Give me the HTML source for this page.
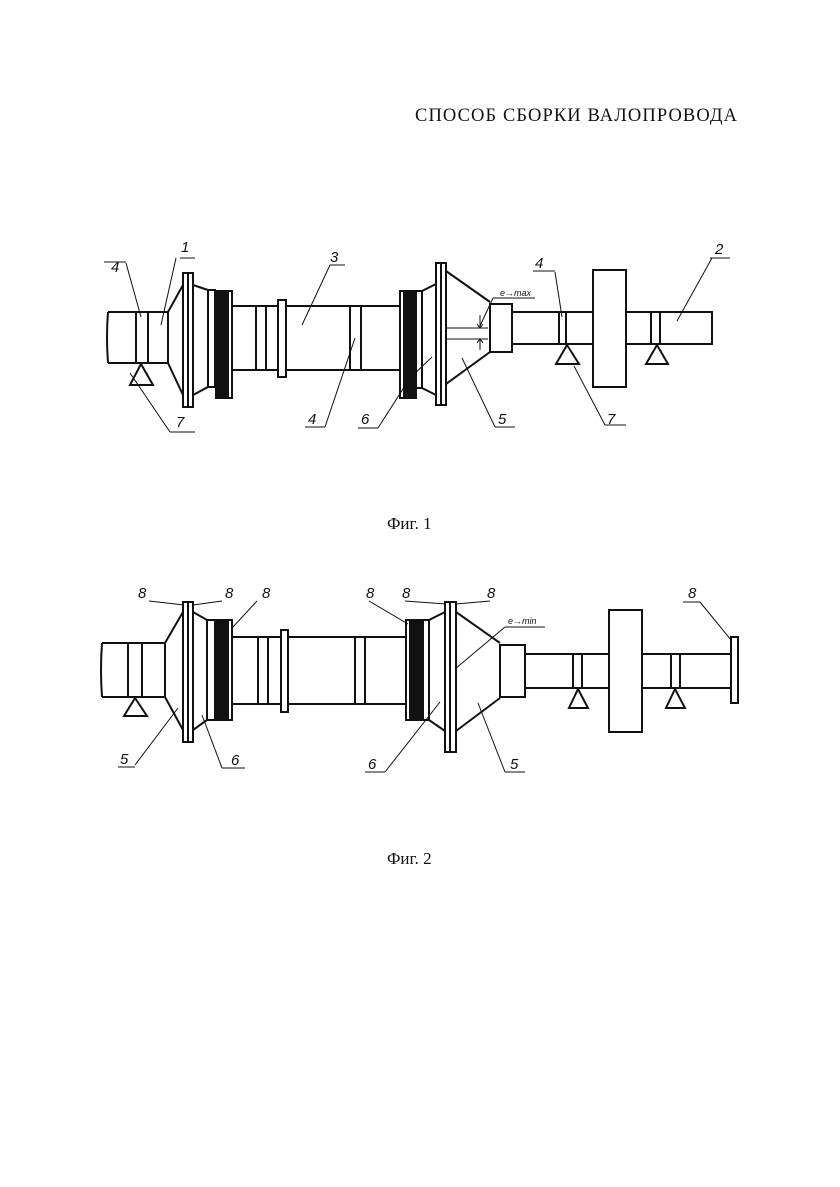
<!DOCTYPE html>
<html><head><meta charset="utf-8"><style>
html,body{margin:0;padding:0;background:#fff;}
svg{display:block;}
.t{font-family:"Liberation Serif",serif;fill:#111;}
.l{font-family:"Liberation Sans",sans-serif;font-style:italic;fill:#111;font-size:15px;}
</style></head><body>
<svg width="840" height="1187" viewBox="0 0 840 1187" xmlns="http://www.w3.org/2000/svg">
<rect width="840" height="1187" fill="#fff"/>
<text class="t" x="415" y="121" font-size="18.5" textLength="322">СПОСОБ СБОРКИ ВАЛОПРОВОДА</text>
<text class="t" x="387" y="529" font-size="17">Фиг. 1</text>
<text class="t" x="387" y="864" font-size="17">Фиг. 2</text>

<g fill="none" stroke="#111" stroke-width="2">
<!-- FIG 1 -->
<path d="M108,312 H168 V363 H108"/><path d="M108,312 q-2,25 0,51"/>
<line x1="136" y1="312" x2="136" y2="363"/><line x1="148" y1="312" x2="148" y2="363"/>
<path d="M168,312 L183,285 M168,363 L183,395"/>
<rect x="183" y="273" width="10" height="134"/><line x1="188" y1="273" x2="188" y2="407"/>
<path d="M193,285 L208,290 M193,395 L208,387"/>
<rect x="208" y="290" width="7" height="97"/>
<rect x="216" y="291" width="12" height="107" fill="#111"/>
<rect x="228" y="291" width="4" height="107"/>
<path d="M232,306 H400 M232,370 H400"/>
<line x1="256" y1="306" x2="256" y2="370"/><line x1="266" y1="306" x2="266" y2="370"/>
<rect x="278" y="300" width="8" height="77" fill="#fff"/>
<line x1="350" y1="306" x2="350" y2="370"/><line x1="361" y1="306" x2="361" y2="370"/>
<rect x="400" y="291" width="4" height="107"/>
<rect x="404" y="291" width="12" height="107" fill="#111"/>
<rect x="416" y="291" width="6" height="97"/>
<path d="M422,291 L436,284 M422,388 L436,395"/>
<rect x="436" y="263" width="10" height="142"/><line x1="441" y1="263" x2="441" y2="405"/>
<path d="M446,271 L490,302 M446,384 L490,352"/>
<rect x="490" y="304" width="22" height="48"/>
<path d="M512,312 H593 M512,344 H593"/>
<line x1="559" y1="312" x2="559" y2="344"/><line x1="566" y1="312" x2="566" y2="344"/>
<path d="M567,345 L556,364 H579 Z"/>
<rect x="593" y="270" width="33" height="117"/>
<path d="M626,312 H712 V344 H626"/>
<line x1="651" y1="312" x2="651" y2="344"/><line x1="660" y1="312" x2="660" y2="344"/>
<path d="M657,345 L646,364 H668 Z"/>
<path d="M141,364 L130,385 H153 Z"/>
</g>
<g fill="none" stroke="#111" stroke-width="1">
<line x1="446" y1="328" x2="488" y2="328"/><line x1="446" y1="339" x2="488" y2="339"/>
<line x1="480" y1="315" x2="480" y2="328"/><line x1="480" y1="339" x2="480" y2="350"/>
<path d="M477,324 L480,328 L483,324 M477,343 L480,339 L483,343"/>
<line x1="480" y1="326" x2="493" y2="298"/><line x1="493" y1="298" x2="535" y2="298"/>
<!-- leaders fig1 -->
<line x1="104" y1="262" x2="126" y2="262"/><line x1="126" y1="263" x2="141" y2="317"/>
<line x1="180" y1="258" x2="195" y2="258"/><line x1="176" y1="258" x2="161" y2="325"/>
<line x1="330" y1="265" x2="345" y2="265"/><line x1="330" y1="265" x2="302" y2="325"/>
<line x1="130" y1="373" x2="170" y2="432" /><line x1="170" y1="432" x2="195" y2="432"/>
<line x1="305" y1="427" x2="325" y2="427"/><line x1="325" y1="427" x2="355" y2="338"/>
<line x1="358" y1="428" x2="378" y2="428"/><line x1="378" y1="428" x2="410" y2="378"/><line x1="410" y1="378" x2="432" y2="357"/>
<line x1="495" y1="427" x2="515" y2="427"/><line x1="495" y1="427" x2="462" y2="358"/>
<line x1="533" y1="271" x2="555" y2="271"/><line x1="555" y1="272" x2="562" y2="317"/>
<line x1="574" y1="366" x2="605" y2="425"/><line x1="605" y1="425" x2="626" y2="425"/>
<line x1="710" y1="258" x2="730" y2="258"/><line x1="712" y1="258" x2="677" y2="321"/>
</g>
<g class="l">
<text x="111" y="272">4</text><text x="181" y="252">1</text><text x="330" y="262">3</text>
<text x="176" y="427">7</text><text x="308" y="424">4</text><text x="361" y="424">6</text>
<text x="498" y="424">5</text><text x="535" y="268">4</text><text x="607" y="424">7</text>
<text x="715" y="254">2</text>
<text x="500" y="296" font-size="9">e→max</text>
</g>

<!-- FIG 2 -->
<g fill="none" stroke="#111" stroke-width="2">
<path d="M102,643 H165 V697 H102"/><path d="M102,643 q-2,27 0,54"/>
<line x1="128" y1="643" x2="128" y2="697"/><line x1="142" y1="643" x2="142" y2="697"/>
<path d="M135,698 L124,716 H147 Z"/>
<path d="M165,643 L183,612 M165,697 L183,730"/>
<rect x="183" y="602" width="10" height="140"/><line x1="188" y1="602" x2="188" y2="742"/>
<path d="M193,612 L207,620 M193,730 L207,720"/>
<rect x="207" y="620" width="8" height="100"/>
<rect x="216" y="620" width="12" height="100" fill="#111"/>
<rect x="228" y="620" width="4" height="100"/>
<path d="M232,637 H405 M232,704 H405"/>
<line x1="258" y1="637" x2="258" y2="704"/><line x1="268" y1="637" x2="268" y2="704"/>
<rect x="281" y="630" width="7" height="82" fill="#fff"/>
<line x1="355" y1="637" x2="355" y2="704"/><line x1="365" y1="637" x2="365" y2="704"/>
<rect x="406" y="620" width="4" height="100"/>
<rect x="410" y="620" width="13" height="100" fill="#111"/>
<rect x="423" y="620" width="6" height="100"/>
<path d="M429,620 L445,612 M429,720 L445,731"/>
<rect x="445" y="602" width="11" height="150"/><line x1="450" y1="602" x2="450" y2="752"/>
<path d="M456,612 L500,643 M456,731 L500,698"/>
<rect x="500" y="645" width="25" height="52"/>
<path d="M525,654 H609 M525,688 H609"/>
<line x1="573" y1="654" x2="573" y2="688"/><line x1="582" y1="654" x2="582" y2="688"/>
<path d="M578,689 L569,708 H588 Z"/>
<rect x="609" y="610" width="33" height="122"/>
<path d="M642,654 H731 M642,688 H731"/>
<line x1="671" y1="654" x2="671" y2="688"/><line x1="680" y1="654" x2="680" y2="688"/>
<path d="M675,689 L666,708 H685 Z"/>
<rect x="731" y="637" width="7" height="66"/>
</g>
<g fill="none" stroke="#111" stroke-width="1">
<line x1="149" y1="601" x2="184" y2="605"/>
<line x1="193" y1="605" x2="222" y2="601"/>
<line x1="257" y1="601" x2="232" y2="628"/>
<line x1="369" y1="601" x2="408" y2="624"/>
<line x1="405" y1="601" x2="446" y2="604"/>
<line x1="456" y1="604" x2="490" y2="601"/>
<line x1="505" y1="627" x2="545" y2="627"/><line x1="505" y1="627" x2="455" y2="669"/>
<line x1="683" y1="602" x2="700" y2="602"/><line x1="700" y1="602" x2="731" y2="640"/>
<line x1="118" y1="767" x2="135" y2="767"/><line x1="135" y1="765" x2="178" y2="708"/>
<line x1="222" y1="768" x2="245" y2="768"/><line x1="222" y1="768" x2="202" y2="715"/>
<line x1="365" y1="772" x2="385" y2="772"/><line x1="385" y1="772" x2="440" y2="702"/>
<line x1="505" y1="772" x2="525" y2="772"/><line x1="505" y1="772" x2="478" y2="703"/>
</g>
<g class="l">
<text x="138" y="598">8</text><text x="225" y="598">8</text><text x="262" y="598">8</text>
<text x="366" y="598">8</text><text x="402" y="598">8</text><text x="487" y="598">8</text>
<text x="688" y="598">8</text>
<text x="120" y="764">5</text><text x="231" y="765">6</text><text x="368" y="769">6</text><text x="510" y="769">5</text>
<text x="508" y="624" font-size="9">e→min</text>
</g>
</svg>
</body></html>
